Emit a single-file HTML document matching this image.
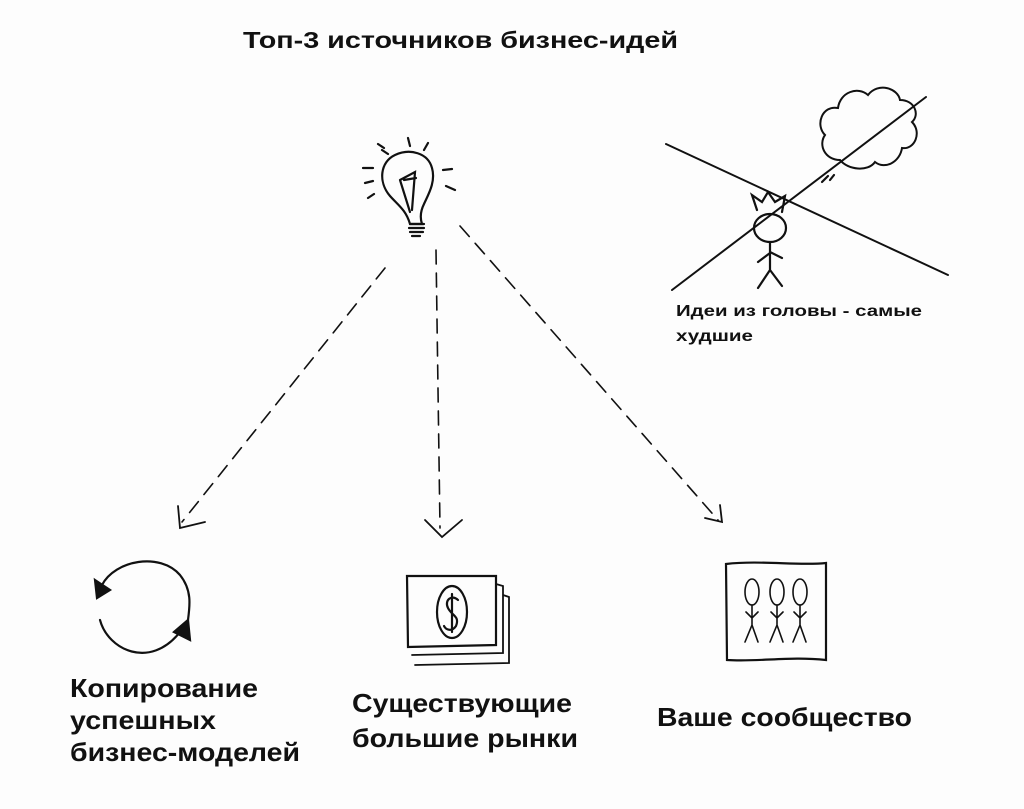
<!DOCTYPE html>
<html><head><meta charset="utf-8"><style>
html,body{margin:0;padding:0;background:#fff}
svg{display:block}
text{font-family:"Liberation Sans",sans-serif;font-weight:bold;fill:#111}
</style></head><body>
<svg width="1024" height="809" viewBox="0 0 1024 809" xmlns="http://www.w3.org/2000/svg">
<rect width="1024" height="809" fill="#fdfdfd"/>
<text x="243" y="48" font-size="23" textLength="435" lengthAdjust="spacingAndGlyphs">Топ-3 источников  бизнес-идей</text>
<g stroke="#111" fill="none" stroke-width="2.2" stroke-linecap="round">
<path d="M410 224 C406 210 398 205 390 196 C378 182 380 162 395 155 C410 148 428 153 432 168 C436 182 428 195 424 204 C420 212 420 218 422 224 Z"/>
<path d="M400 180 L415 172 L412 210 M400 180 L410 212 M404 180 L416 178"/>
<path d="M410 224 L424 224 M409 228 L424 228 M410 232 L423 232 M412 236 L420 236"/>
<path d="M382 150 L388 154 M363 168 L373 168 M365 183 L373 181 M368 198 L374 194 M408 138 L410 146 M428 143 L424 150 M443 170 L452 169 M446 186 L455 190 M378 144 L384 148"/>
<g stroke-dasharray="14 9" stroke-width="1.6">
<path d="M385 268 L182 522"/>
<path d="M436 250 L440 528"/>
<path d="M460 226 L718 520"/>
</g>
<g stroke-width="1.8">
<path d="M178 506 L180 528 L205 522"/>
<path d="M425 520 L442 537 L462 520"/>
<path d="M705 518 L722 522 L720 505"/>
</g>
<path d="M666 144 L948 275" stroke-width="2"/>
<path d="M672 290 L926 97" stroke-width="2"/>
<path d="M840 160 C825 160 818 145 825 135 C815 125 822 105 838 108 C840 92 858 86 868 95 C878 82 898 88 900 100 C915 100 920 115 912 122 C922 132 915 150 902 148 C900 162 885 170 875 162 C868 172 848 170 840 160 Z" stroke-width="2"/>
<path d="M822 182 L828 176 M830 180 L834 175"/>
<ellipse cx="770" cy="228" rx="16" ry="14"/>
<path d="M757 210 L752 195 L762 202 L768 192 L775 202 L785 196 L782 212"/>
<path d="M770 242 L770 270 M770 270 L758 288 M770 270 L782 286 M770 253 L758 262 M770 252 L782 258"/>
<path d="M102 585 C115 560 160 552 180 575 C192 590 190 605 188 620"/>
<path d="M100 620 C108 650 150 670 180 632"/>
<path d="M95 580 L110 590 L97 598 Z" fill="#111"/>
<path d="M174 632 L188 620 L190 640 Z" fill="#111"/>
<path d="M407 576 L496 576 L496 645 L408 647 Z"/>
<path d="M496 584 L503 586 L503 653 L412 655 M503 595 L509 597 L509 663 L415 665" stroke-width="1.8"/>
<ellipse cx="452" cy="612" rx="15" ry="26"/>
<path d="M458 600 C452 594 444 600 448 608 C452 616 460 616 456 626 C452 632 446 630 444 626 M452 594 L452 632"/>
<path d="M726 564 C760 560 800 566 826 563 L826 660 C790 656 760 662 727 660 Z"/>
<g stroke-width="1.6">
<ellipse cx="752" cy="592" rx="7" ry="13"/><path d="M752 605 L752 625 L745 642 M752 625 L758 642 M746 612 L752 618 L758 612"/>
<ellipse cx="777" cy="592" rx="7" ry="13"/><path d="M777 605 L777 625 L770 642 M777 625 L783 642 M771 612 L777 618 L783 612"/>
<ellipse cx="800" cy="592" rx="7" ry="13"/><path d="M800 605 L800 625 L793 642 M800 625 L806 642 M794 612 L800 618 L806 612"/>
</g>
</g>
<text x="676" y="316" font-size="16" textLength="246" lengthAdjust="spacingAndGlyphs">Идеи из головы - самые</text>
<text x="676" y="341" font-size="16" textLength="77" lengthAdjust="spacingAndGlyphs">худшие</text>
<g font-size="26">
<text x="70" y="697" textLength="188" lengthAdjust="spacingAndGlyphs">Копирование</text>
<text x="70" y="729" textLength="146" lengthAdjust="spacingAndGlyphs">успешных</text>
<text x="70" y="761" textLength="230" lengthAdjust="spacingAndGlyphs">бизнес-моделей</text>
<text x="352" y="712" textLength="220" lengthAdjust="spacingAndGlyphs">Существующие</text>
<text x="352" y="747" textLength="226" lengthAdjust="spacingAndGlyphs">большие рынки</text>
<text x="657" y="726" textLength="255" lengthAdjust="spacingAndGlyphs">Ваше сообщество</text>
</g>
</svg>
</body></html>
